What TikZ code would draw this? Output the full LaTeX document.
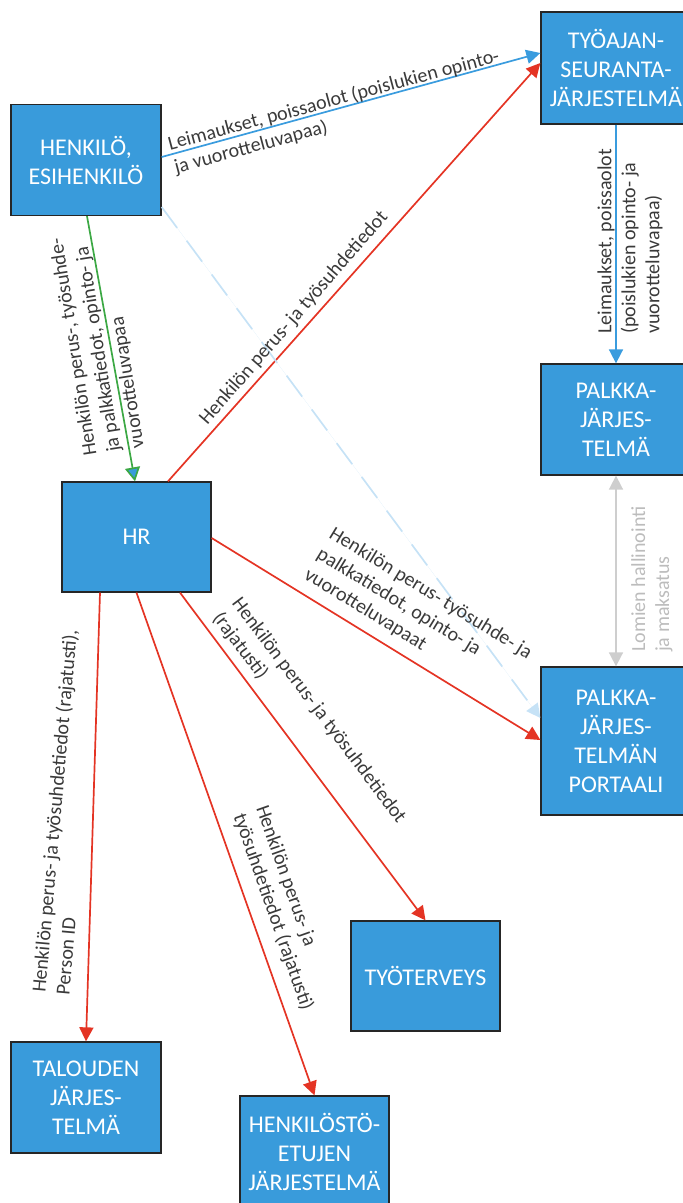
\documentclass[tikz,border=0pt]{standalone}
\usepackage{fontspec}
\setmainfont{Carlito}
\usetikzlibrary{arrows.meta}

\definecolor{boxblue}{RGB}{57,155,219}
\definecolor{boxline}{RGB}{38,38,38}
\definecolor{flowblue}{RGB}{58,156,222}
\definecolor{flowred}{RGB}{228,52,36}
\definecolor{flowgreen}{RGB}{60,168,68}
\definecolor{flowpale}{RGB}{198,226,246}
\definecolor{flowgray}{RGB}{206,206,206}
\definecolor{lbltext}{RGB}{58,58,58}
\definecolor{lblgray}{RGB}{188,188,188}

\newcommand\sysfont{\fontsize{24}{29}\selectfont}
\newcommand\lblfont{\fontsize{20}{24}\selectfont}

\tikzset{
  sysbox/.style={draw=boxline, fill=boxblue, line width=1.3pt, text=white,
    font=\sysfont, align=center, inner sep=0pt,
    minimum width=150pt, minimum height=111pt},
  flow/.style={line width=1.7pt, -{Triangle[length=14pt,width=14pt]}},
  lbl/.style={font=\lblfont, text=lbltext, inner sep=0pt, align=left},
}

\begin{document}
\begin{tikzpicture}[x=1pt,y=-1pt]
\useasboundingbox (0,0) rectangle (683,1203);
\clip (0,0) rectangle (683,1203);

% systems
\node[sysbox] (hen)  at (86,160)      {HENKILÖ,\\ESIHENKILÖ};
\node[sysbox, minimum height=112pt] (tyo) at (616,68) {TYÖAJAN-\\SEURANTA-\\JÄRJESTELMÄ};
\node[sysbox] (pal)  at (616,419.5)   {PALKKA-\\JÄRJES-\\TELMÄ};
\node[sysbox, minimum width=149pt, minimum height=110pt] (hr) at (136.5,537) {HR};
\node[sysbox, minimum height=148pt] (por) at (616,741) {PALKKA-\\JÄRJES-\\TELMÄN\\PORTAALI};
\node[sysbox, minimum width=149pt, minimum height=110pt] (tyot) at (425.5,976) {TYÖTERVEYS};
\node[sysbox] (tal)  at (86,1097.5)   {TALOUDEN\\JÄRJES-\\TELMÄ};
\node[sysbox, minimum width=149pt] (hetu) at (314.5,1151.5) {HENKILÖSTÖ-\\ETUJEN\\JÄRJESTELMÄ};

% data flows
\draw[flow, draw=flowblue, fill=flowblue] ([yshift=3pt]hen.east) -- ([yshift=15pt]tyo.west);
\draw[flow, draw=flowred, fill=flowred] ([xshift=31.5pt]hr.north) -- ([yshift=5pt]tyo.west);
\draw[flow, draw=flowblue, fill=flowblue] (tyo.south) -- (pal.north);
\draw[line width=1.7pt, draw=flowgreen,
  -{Triangle[length=14pt,width=15pt,fill=boxblue]}] ([xshift=1pt]hen.south) -- ([xshift=-1.5pt]hr.north);
\draw[flow, draw=flowpale, fill=flowpale, dash pattern=on 26pt off 16pt]
  ([yshift=-47pt]hen.east) -- ([yshift=23pt]por.west);
\draw[line width=1.7pt, draw=flowgray, fill=flowgray,
  {Triangle[length=14pt,width=14pt]}-{Triangle[length=14pt,width=14pt]}] (pal.south) -- (por.north);
\draw[flow, draw=flowred, fill=flowred] ([yshift=-1pt]hr.east) -- ([yshift=1pt]por.west);
\draw[flow, draw=flowred, fill=flowred] ([xshift=43.5pt]hr.south) -- (tyot.north);
\draw[flow, draw=flowred, fill=flowred] (hr.south) -- (hetu.north);
\draw[flow, draw=flowred, fill=flowred] ([xshift=-36.5pt]hr.south) -- (tal.north);

% flow labels
\node[lbl, rotate=15] (l1) at (337,112)
  {Leimaukset, poissaolot (poislukien opinto-\\ja vuorotteluvapaa)};
\node[lbl, rotate=49] (l2) at (294,318) {Henkilön perus- ja työsuhdetiedot};
\node[lbl, rotate=90, anchor=west] (l3) at (630,334)
  {Leimaukset, poissaolot\\(poislukien opinto- ja\\vuorotteluvapaa)};
\node[lbl, rotate=99, anchor=west] (l4) at (115,452)
  {Henkilön perus-, työsuhde-\\ja palkkatiedot, opinto- ja\\vuorotteluvapaa};
\node[lbl, rotate=90, anchor=west, text=lblgray] (l5) at (652,652)
  {Lomien hallinointi\\ja maksatus};
\node[lbl, rotate=-31.5] (l6) at (418,614)
  {Henkilön perus- työsuhde- ja\\palkkatiedot, opinto- ja\\vuorotteluvapaat};
\node[lbl, rotate=-53] (l7) at (309,718)
  {Henkilön perus- ja työsuhdetiedot\\(rajatusti)};
\node[lbl, rotate=-70.6] (l8) at (284,908)
  {Henkilön perus- ja\\työsuhdetiedot (rajatusti)};
\node[lbl, rotate=85] (l9) at (66,812)
  {Henkilön perus- ja työsuhdetiedot (rajatusti),\\Person ID};
\end{tikzpicture}
\end{document}
